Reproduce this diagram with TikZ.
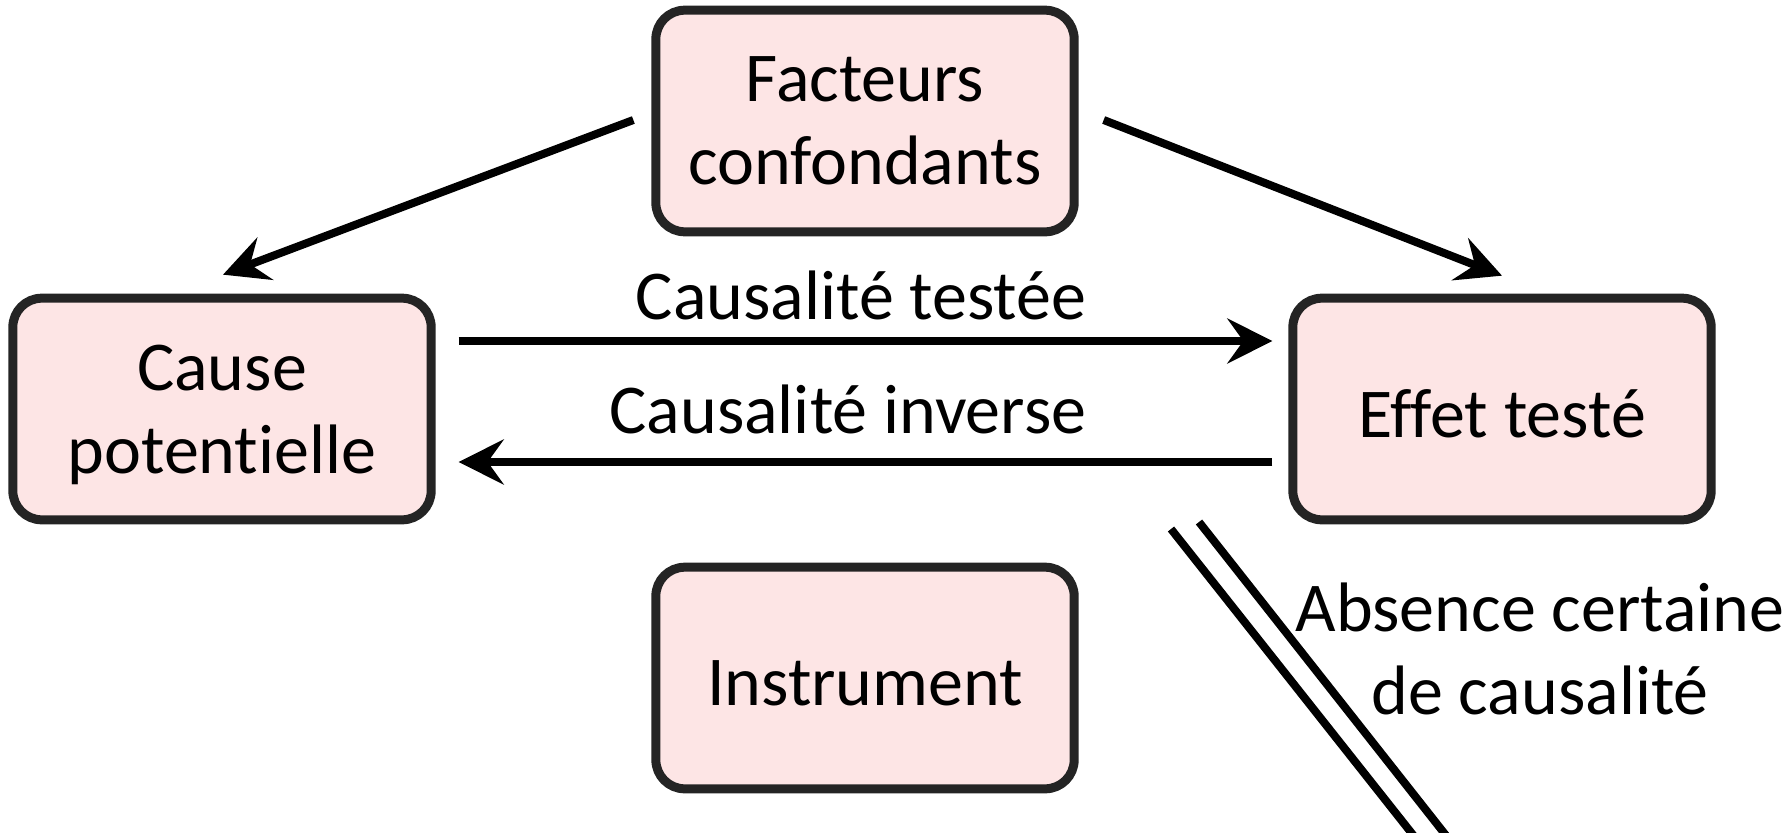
\documentclass[tikz,border=0pt]{standalone}
\usepackage{fontspec}
\setmainfont{Carlito}[Ligatures=CommonOff]
\usetikzlibrary{arrows.meta,calc}
\definecolor{boxfill}{RGB}{253,229,229}
\definecolor{boxline}{RGB}{36,36,36}
\begin{document}
\begin{tikzpicture}[x=0.3pt,y=-0.3pt,
  txt/.style={font=\fontsize{21}{24.9}\selectfont},
  box/.style={txt, draw=boxline, fill=boxfill, line width=2.7pt, rounded corners=8.7pt,
    minimum width=125.5pt, minimum height=66.5pt, inner sep=0pt, align=center},
  arr/.style={line width=2.4pt, -{Stealth[length=13.5pt,width=13.5pt,inset=4.8pt]}},
  lbl/.style={txt, inner sep=0pt},
  bar/.style={line width=2.4pt}]
\useasboundingbox (0,0) rectangle (1787,832);
\node[box] (top) at (865,121) {Facteurs\\confondants};
\node[box, text depth=0pt] (left) at (222,409) {Cause\\potentielle};
\node[box, text height=17.2pt, text depth=0pt] (right) at (1502,409) {Effet testé};
\node[box, text height=16.3pt, text depth=0pt] (bottom) at (865,678) {Instrument};

\coordinate (tl1) at ($(top.west)+(-18,-1)$);
\coordinate (tl2) at ($(left.north)+(1,-19)$);
\coordinate (tr1) at ($(top.east)+(25,-1)$);
\coordinate (tr2) at ($(right.north)+(0,-18)$);
\coordinate (ct1) at ($(left.east)+(23,-68)$);
\coordinate (ct2) at ($(right.west)+(-16,-68)$);
\coordinate (ci1) at ($(right.west)+(-16,53)$);
\coordinate (ci2) at ($(left.east)+(23,53)$);

\draw[arr] (tl1) -- (tl2);
\draw[arr] (tr1) -- (tr2);
\draw[arr] (ct1) -- (ct2);
\draw[arr] (ci1) -- (ci2);

\node[lbl, anchor=base east] (lt) at (1087,319) {Causalité testée};
\node[lbl, anchor=base east] (li) at (1087,433) {Causalité inverse};

\begin{scope}
\clip (0,0) rectangle (1787,832);
\draw[bar] (1171,529) -- (1421,845);
\draw[bar] (1199,522) -- (1448,838);
\end{scope}

\node[lbl, align=center, anchor=base] (abs) at (1540,714) {Absence certaine\\de causalité};
\end{tikzpicture}
\end{document}
